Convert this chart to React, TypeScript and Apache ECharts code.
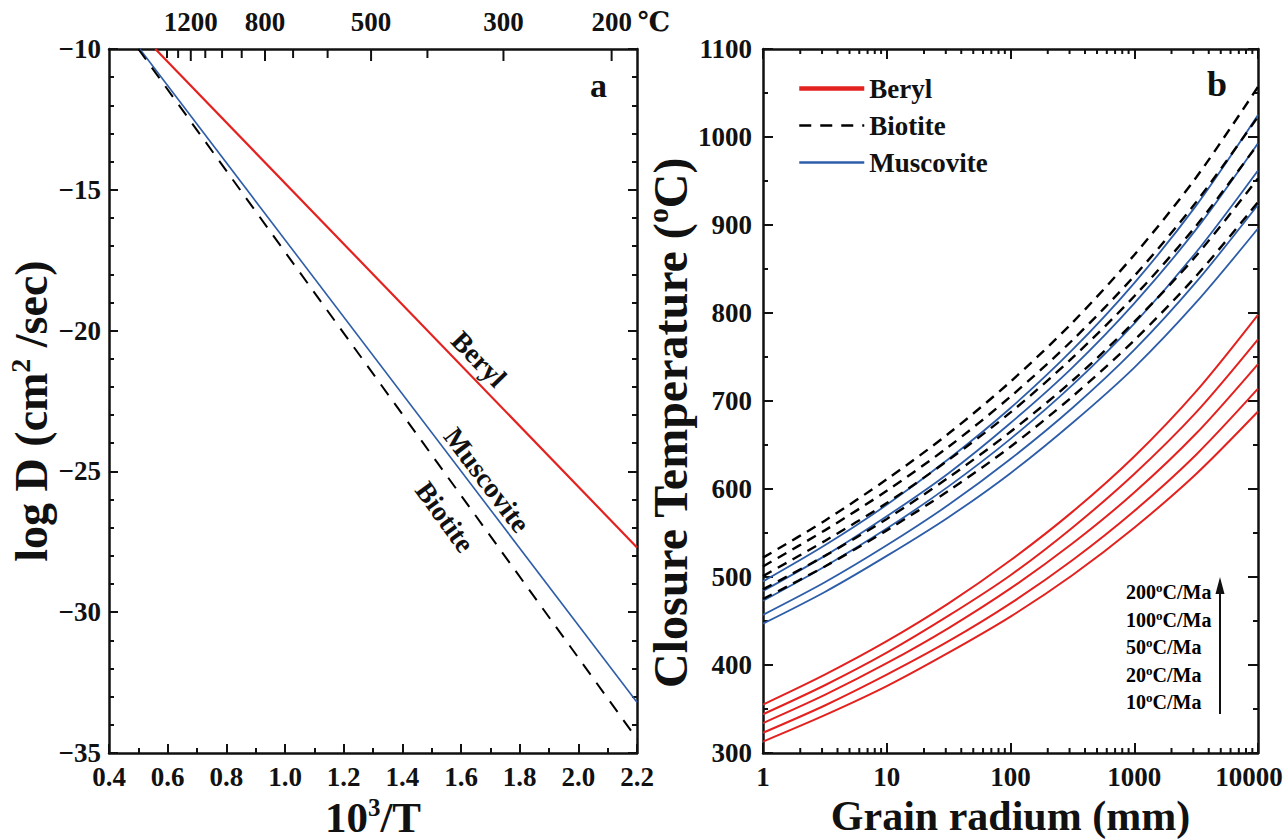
import React, { useEffect, useRef } from 'react';
import * as echarts from 'echarts';

const FONT = '"Liberation Serif", "Times New Roman", "DejaVu Serif", serif';
const INK = '#111';
const RED = '#e3221f';
const BLUE = '#2d5da8';

// ---------- Panel a : log D vs 10^3/T ----------
const topTempC = [200, 300, 400, 500, 600, 700, 800, 900, 1000, 1100, 1200, 1300, 1400];
const topLabelTempC = [1200, 800, 500, 300, 200];
const berylA = [[0.558, -10], [2.2, -27.7]];
const muscoviteA = [[0.505, -10], [2.2, -33.2]];
const biotiteA = [[0.5, -10], [2.2, -34.5]];

// ---------- Panel b : closure temperature vs grain radius ----------
const radius = [1, 3.16, 10, 31.6, 100, 316, 1000, 3162, 10000];
const rateLabels = ['200', '100', '50', '20', '10'];
const berylTc = [
  [355, 389, 427, 470, 519, 574, 637, 711, 798],
  [344, 377, 414, 456, 502, 556, 617, 687, 770],
  [334, 366, 402, 442, 487, 538, 596, 663, 742],
  [323, 354, 389, 427, 470, 519, 575, 639, 714],
  [313, 343, 376, 414, 455, 502, 556, 617, 688],
];
const muscoviteTc = [
  [495, 536, 582, 634, 692, 758, 834, 922, 1025],
  [484, 524, 569, 618, 675, 738, 811, 895, 993],
  [473, 512, 555, 603, 657, 718, 788, 869, 962],
  [457, 494, 536, 582, 634, 692, 758, 835, 923],
  [447, 483, 524, 568, 618, 675, 738, 812, 896],
];
const biotiteTc = [
  [522, 564, 611, 663, 722, 789, 866, 954, 1057],
  [512, 553, 598, 648, 705, 769, 842, 926, 1023],
  [501, 541, 584, 633, 687, 749, 819, 899, 992],
  [486, 524, 566, 613, 665, 723, 790, 865, 953],
  [475, 512, 553, 598, 648, 705, 769, 842, 926],
];
const logMinorTicks: number[] = [];
for (const dec of [1, 10, 100, 1000]) for (let m = 2; m <= 9; m++) logMinorTicks.push(m * dec);

const axisLine = { show: true, onZero: false, lineStyle: { color: INK, width: 2.5 } };
const tickStyle = { color: INK, width: 2 };
const labelFont = { fontFamily: FONT, fontWeight: 'bold' as const, fontSize: 27, color: INK };
const minus = (v: number) => String(v).replace('-', '\u2212');
const makeRich = (size: number, lh = 1.1) => ({
  t: { fontFamily: FONT, fontWeight: 'bold' as const, fontSize: size, color: INK, lineHeight: size * lh },
  s: { fontFamily: FONT, fontWeight: 'bold' as const, fontSize: Math.round(size * 0.6), color: INK, verticalAlign: 'top' as const, lineHeight: size * 0.7 },
});

const rateRich = {
  n: { fontFamily: FONT, fontWeight: 'bold' as const, fontSize: 20, color: INK, lineHeight: 22 },
  s: { fontFamily: FONT, fontWeight: 'bold' as const, fontSize: 13, color: INK, verticalAlign: 'top' as const, lineHeight: 14 },
};

// tick marks drawn through the axes' own scales (value 2 = tick length)
function tickSeries(xAxisIndex: number, yAxisIndex: number, data: number[][], dir: number) {
  return {
    type: 'custom', xAxisIndex, yAxisIndex, data, silent: true, clip: false, z: 5,
    encode: { x: 0, y: 1 },
    renderItem: (_p: any, api: any) => {
      const pt = api.coord([api.value(0), api.value(1)]);
      const len = api.value(2);
      return {
        type: 'line',
        shape: { x1: pt[0], y1: pt[1], x2: pt[0], y2: pt[1] + dir * len },
        style: { stroke: INK, lineWidth: 2 },
      };
    },
  };
}

function buildOption(): any {
  const series: any[] = [
    { name: 'Beryl', type: 'line', xAxisIndex: 0, yAxisIndex: 0, data: berylA, showSymbol: false, symbol: 'none', lineStyle: { color: RED, width: 2.2 }, itemStyle: { color: RED } },
    { name: 'Muscovite', type: 'line', xAxisIndex: 0, yAxisIndex: 0, data: muscoviteA, showSymbol: false, symbol: 'none', lineStyle: { color: BLUE, width: 1.6 }, itemStyle: { color: BLUE } },
    { name: 'Biotite', type: 'line', xAxisIndex: 0, yAxisIndex: 0, data: biotiteA, showSymbol: false, symbol: 'none', lineStyle: { color: '#000', width: 2, type: [13, 10] }, itemStyle: { color: '#000' } },
  ];
  const addGroup = (name: string, rows: number[][], color: string, width: number, type: any) => {
    rows.forEach((row) => {
      series.push({
        name, type: 'line', xAxisIndex: 2, yAxisIndex: 2, smooth: 0.3,
        data: row.map((v, i) => [radius[i], v]),
        showSymbol: false, symbol: 'none',
        lineStyle: { color, width, type }, itemStyle: { color },
      });
    });
  };
  addGroup('Beryl', berylTc, RED, 2, 'solid');
  addGroup('Muscovite', muscoviteTc, BLUE, 1.8, 'solid');
  addGroup('Biotite', biotiteTc, '#000', 2.4, [10, 7]);

  series.push(tickSeries(1, 0, topTempC.map((t) => [1000 / (t + 273.15), -10, topLabelTempC.includes(t) ? 12 : 9]), 1));
  series.push(tickSeries(2, 2, logMinorTicks.map((v) => [v, 300, 5]), -1));
  series.push(tickSeries(2, 2, logMinorTicks.map((v) => [v, 1100, 5]), 1));

  const gridBox = { top: 49, height: 704 };
  return {
    animation: false,
    backgroundColor: '#fff',
    grid: [
      { left: 109, width: 528, ...gridBox, outerBoundsMode: 'none' },
      { left: 763, width: 495, ...gridBox, outerBoundsMode: 'none' },
    ],
    xAxis: [
      {
        type: 'value', gridIndex: 0, position: 'bottom', min: 0.4, max: 2.2, interval: 0.2,
        axisLine, axisTick: { inside: true, length: 9, lineStyle: tickStyle },
        minorTick: { show: true, splitNumber: 2, length: 5, lineStyle: tickStyle },
        splitLine: { show: false }, minorSplitLine: { show: false },
        axisLabel: { ...labelFont, margin: 10, formatter: (v: number) => v.toFixed(1) },
        name: '{t|10}{s|3}{t|/T}', nameLocation: 'middle', nameGap: 29,
        nameTextStyle: {
          rich: {
            t: { fontFamily: FONT, fontWeight: 'bold', fontSize: 43, color: INK, lineHeight: 46 },
            s: { fontFamily: FONT, fontWeight: 'bold', fontSize: 25, color: INK, verticalAlign: 'top', lineHeight: 26 },
          },
        },
      },
      {
        type: 'value', gridIndex: 0, position: 'top', min: 0.4, max: 2.2,
        axisLine, axisTick: { show: false },
        axisLabel: { ...labelFont, margin: 14, customValues: topLabelTempC.map((t) => 1000 / (t + 273.15)), formatter: (v: number) => String(Math.round(1000 / v - 273.15)) },
        splitLine: { show: false },
        name: '\u2103', nameLocation: 'end', nameGap: -6,
        nameTextStyle: { ...labelFont, verticalAlign: 'bottom', padding: [0, 0, 14, 0] },
      },
      {
        type: 'log', gridIndex: 1, position: 'bottom', logBase: 10, min: 1, max: 10000, interval: 1,
        axisLine, axisTick: { inside: true, length: 10, lineStyle: tickStyle },
        splitLine: { show: false },
        axisLabel: {
          ...labelFont, margin: 10,
          formatter: (v: number) => (Math.round(v) === 10000 ? '{r|10000}' : String(Math.round(v))),
          rich: { r: { ...labelFont, padding: [0, 18, 0, 0] } },
        },
        name: '{t|Grain radium (mm)}', nameLocation: 'middle', nameGap: 36,
        nameTextStyle: { rich: makeRich(42) },
      },
      {
        type: 'log', gridIndex: 1, position: 'top', logBase: 10, min: 1, max: 10000, interval: 1,
        axisLine, axisTick: { inside: true, length: 10, lineStyle: tickStyle },
        splitLine: { show: false }, axisLabel: { show: false },
      },
    ],
    yAxis: [
      {
        type: 'value', gridIndex: 0, position: 'left', min: -35, max: -10, interval: 5,
        axisLine, axisTick: { inside: true, length: 9, lineStyle: tickStyle },
        minorTick: { show: true, splitNumber: 5, length: 5, lineStyle: tickStyle },
        splitLine: { show: false }, minorSplitLine: { show: false },
        axisLabel: { ...labelFont, margin: 8, formatter: minus },
        name: '{t|log D (cm}{s|2}{t| /sec)}', nameLocation: 'middle', nameGap: 45,
        nameTextStyle: { rich: makeRich(46), padding: [0, 20, 0, 0] },
      },
      {
        type: 'value', gridIndex: 0, position: 'right', min: -35, max: -10, interval: 5,
        axisLine, axisTick: { inside: true, length: 9, lineStyle: tickStyle },
        minorTick: { show: true, splitNumber: 5, length: 5, lineStyle: tickStyle },
        splitLine: { show: false }, minorSplitLine: { show: false }, axisLabel: { show: false },
      },
      {
        type: 'value', gridIndex: 1, position: 'left', min: 300, max: 1100, interval: 100,
        axisLine, axisTick: { inside: true, length: 10, lineStyle: tickStyle },
        minorTick: { show: true, splitNumber: 2, length: 5, lineStyle: tickStyle },
        splitLine: { show: false }, minorSplitLine: { show: false },
        axisLabel: { ...labelFont, margin: 11, formatter: (v: number) => String(v) },
        name: '{t|Closure Temperature (}{s|o}{t|C)}', nameLocation: 'middle', nameGap: 64,
        nameTextStyle: { rich: makeRich(48), padding: [0, 44, 0, 0] },
      },
      {
        type: 'value', gridIndex: 1, position: 'right', min: 300, max: 1100, interval: 100,
        axisLine, axisTick: { inside: true, length: 10, lineStyle: tickStyle },
        minorTick: { show: true, splitNumber: 2, length: 5, lineStyle: tickStyle },
        splitLine: { show: false }, minorSplitLine: { show: false }, axisLabel: { show: false },
      },
    ],
    legend: {
      orient: 'vertical', left: 792, top: 70, itemWidth: 65, itemHeight: 14, itemGap: 10,
      selectedMode: false,
      textStyle: { ...labelFont, lineHeight: 26 },
      data: [
        { name: 'Beryl', lineStyle: { width: 4.5, color: RED }, itemStyle: { opacity: 0 } },
        { name: 'Biotite', lineStyle: { width: 2.5, color: '#000', type: [12, 9] }, itemStyle: { opacity: 0 } },
        { name: 'Muscovite', lineStyle: { width: 2.5, color: BLUE }, itemStyle: { opacity: 0 } },
      ],
    },
    graphic: [
      { type: 'text', left: 590, top: 68, style: { text: 'a', font: `bold 34px ${FONT}`, fill: INK } },
      { type: 'text', left: 1207, top: 66, style: { text: 'b', font: `bold 36px ${FONT}`, fill: INK } },
      { type: 'text', x: 479, y: 359, rotation: -46 * Math.PI / 180, style: { text: 'Beryl', font: `bold 28px ${FONT}`, fill: INK, align: 'center', verticalAlign: 'middle' } },
      { type: 'text', x: 487, y: 480, rotation: -53 * Math.PI / 180, style: { text: 'Muscovite', font: `bold 28px ${FONT}`, fill: INK, align: 'center', verticalAlign: 'middle' } },
      { type: 'text', x: 445, y: 517, rotation: -54 * Math.PI / 180, style: { text: 'Biotite', font: `bold 28px ${FONT}`, fill: INK, align: 'center', verticalAlign: 'middle' } },
      ...rateLabels.map((r, i) => ({
        type: 'text', x: 1126, y: 592 + i * 27.5,
        style: { text: `{n|${r}}{s|o}{n|C/Ma}`, rich: rateRich, align: 'left', verticalAlign: 'middle' },
      })),
      { type: 'line', shape: { x1: 1220, y1: 714, x2: 1220, y2: 590 }, style: { stroke: INK, lineWidth: 2 } },
      { type: 'polygon', shape: { points: [[1220, 577], [1215.5, 594], [1224.5, 594]] }, style: { fill: INK } },
    ],
    series,
  };
}

export default function App() {
  const ref = useRef<HTMLDivElement>(null);
  useEffect(() => {
    const chart = echarts.init(ref.current!, null, { renderer: 'svg' });
    chart.setOption(buildOption());
    return () => chart.dispose();
  }, []);
  return (
    <div
      ref={ref}
      style={{ position: 'absolute', left: 0, top: 0, width: 1286, height: 839, background: '#fff' }}
    />
  );
}
